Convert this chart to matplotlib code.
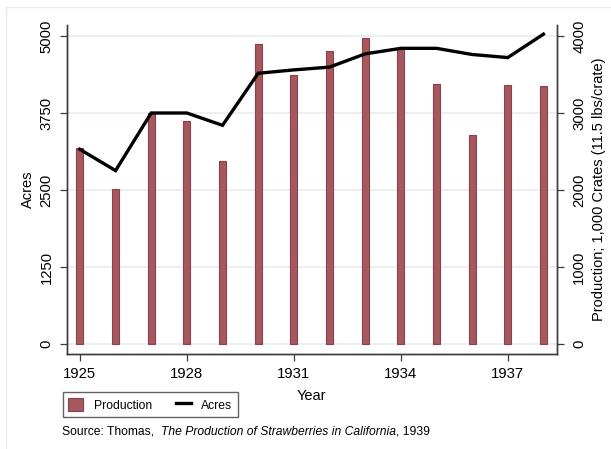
import matplotlib
matplotlib.use('Agg')
import matplotlib.pyplot as plt
from matplotlib.patches import Patch
from matplotlib.lines import Line2D

# ── data ───────────────────────────────────────────────────────────────────────
years      = [1925, 1926, 1927, 1928, 1929, 1930, 1931,
              1932, 1933, 1934, 1935, 1936, 1937, 1938]
production = [2540, 2010, 3000, 2900, 2380, 3900, 3490,
              3800, 3970, 3830, 3380, 2710, 3370, 3345]   # 1,000 crates
acres      = [3160, 2815, 3750, 3750, 3550, 4395, 4450,
              4495, 4710, 4800, 4800, 4700, 4650, 5030]

left_ticks  = [0, 1250, 2500, 3750, 5000]
right_ticks = [0, 1000, 2000, 3000, 4000]
x_ticks     = [1925, 1928, 1931, 1934, 1937]

BAR_COLOR  = '#a5595f'
BAR_EDGE   = '#8e3f47'
GRID_COLOR = '#e4eef0'
AXIS_COLOR = '#3c3c3c'

plt.rcParams['font.family'] = ['Liberation Sans', 'DejaVu Sans']

fig = plt.figure(figsize=(6.11, 4.49), dpi=100)
ax1 = fig.add_axes([0.109, 0.2116, 0.8026, 0.7327])   # acres (left)
ax2 = ax1.twinx()                                     # production (right)

# bars + grid live on the right axis, kept behind the acres line
ax2.set_zorder(1)
ax1.set_zorder(2)
ax1.patch.set_visible(False)

ax2.bar(years, production, width=0.2, color=BAR_COLOR,
        edgecolor=BAR_EDGE, linewidth=0.8, zorder=3)
ax2.set_ylim(-129.9, 4142.9)
ax2.set_yticks(right_ticks)
ax2.yaxis.grid(True, color=GRID_COLOR, linewidth=1.2)
ax2.set_axisbelow(True)

ax1.plot(years, acres, color='black', linewidth=2.4, solid_joinstyle='miter')
ax1.set_ylim(-162.3, 5178.6)
ax1.set_xlim(1924.627, 1938.38)
ax1.set_yticks(left_ticks)
ax1.set_xticks(x_ticks)

for ax in (ax1, ax2):
    ax.spines['top'].set_visible(False)
    for s in ('left', 'right', 'bottom'):
        ax.spines[s].set_color(AXIS_COLOR)
        ax.spines[s].set_linewidth(1.0)
    ax.tick_params(axis='both', length=5, width=0.9, color=AXIS_COLOR,
                   labelsize=10.7, colors='black')
    ax.tick_params(axis='y', labelrotation=90)

ax1.tick_params(axis='y', pad=4.5)
ax2.tick_params(axis='y', pad=6)
ax1.tick_params(axis='x', pad=4.3)
for lab in ax1.get_yticklabels() + ax2.get_yticklabels():
    lab.set_va('center')

ax1.set_ylabel('Acres', fontsize=10.5, labelpad=3)
ax2.set_ylabel('Production; 1,000 Crates (11.5 lbs/crate)', fontsize=10.5, labelpad=4)
ax1.set_xlabel('Year', fontsize=10.5, labelpad=6)

# legend below the plot region
handles = [Patch(facecolor=BAR_COLOR, edgecolor=BAR_EDGE, linewidth=0.8),
           Line2D([], [], color='black', linewidth=2.4)]
leg = fig.legend(handles, ['Production', 'Acres'], ncol=2, loc='lower left',
                 bbox_to_anchor=(0.103, 0.0713), fontsize=8.7, frameon=True,
                 fancybox=False, edgecolor=AXIS_COLOR, handlelength=1.2,
                 handleheight=1.3, handletextpad=0.9, columnspacing=2.0,
                 borderpad=0.45, borderaxespad=0)
leg.get_frame().set_linewidth(1.0)

# source note, mixing roman and italic text
t1 = fig.text(0.1015, 0.0379, 'Source: Thomas,  ', fontsize=8.7, va='center')
t2 = plt.annotate('The Production of Strawberries in California', xy=(1, 0.5),
                  xycoords=t1, va='center', ha='left', fontsize=8.7,
                  style='italic', annotation_clip=False)
plt.annotate(', 1939', xy=(1, 0.5), xycoords=t2, va='center', ha='left',
             fontsize=8.7, annotation_clip=False)

# faint outer frame
fig.add_artist(Line2D([6 / 611, 6 / 611], [0, 1 - 7 / 449],
                      transform=fig.transFigure, color=GRID_COLOR, linewidth=1))
fig.add_artist(Line2D([6 / 611, 1], [1 - 7 / 449, 1 - 7 / 449],
                      transform=fig.transFigure, color=GRID_COLOR, linewidth=1))

fig.savefig('out.png', dpi=100)
